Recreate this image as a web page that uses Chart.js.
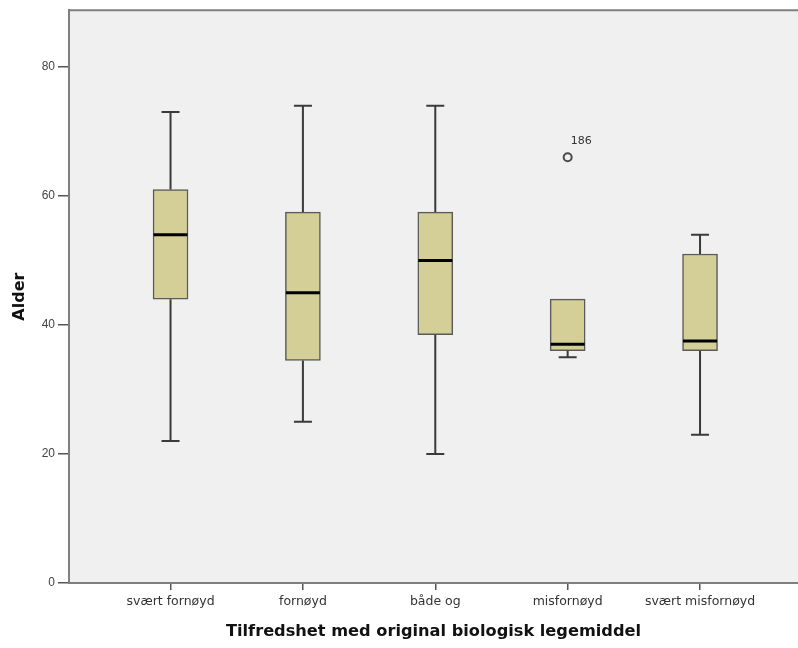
<!DOCTYPE html>
<html>
<head>
<meta charset="utf-8">
<script src="https://cdn.jsdelivr.net/npm/chart.js@4.4.1/dist/chart.umd.min.js"></script>
<style>
  html,body{margin:0;padding:0;background:#fff;}
  #wrap{width:798px;height:648px;}
</style>
</head>
<body>
<div id="wrap"><canvas id="box" width="798" height="648"></canvas></div>
<script>
/* ── data ── */
const categories  = ['svært fornøyd','fornøyd','både og','misfornøyd','svært misfornøyd'];
const whiskerLow  = [22, 25, 20, 35, 23];
const q1          = [44, 34.5, 38.5, 36, 36];
const median      = [54, 45, 50, 37, 37.5];
const q3          = [61, 57.5, 57.5, 44, 51];
const whiskerHigh = [73, 74, 74, 44, 54];
const outlierCat   = [4];
const outlierValue = [66];
const outlierLabel = ['186'];
const yTicks = [0, 20, 40, 60, 80];

const catPos = categories.map((c,i)=>i+1);

/* ── plot background + top frame line ── */
const frame = {
  id:'frame',
  beforeDraw(chart){
    const {ctx, chartArea:a} = chart;
    ctx.save();
    ctx.fillStyle = '#f0f0f0';
    ctx.fillRect(a.left, a.top, a.right-a.left, a.bottom-a.top);
    ctx.strokeStyle = '#7f7f7f'; ctx.lineWidth = 2;
    ctx.beginPath(); ctx.moveTo(a.left, a.top); ctx.lineTo(a.right, a.top); ctx.stroke();
    ctx.restore();
  }
};

/* ── whiskers, caps, medians and outlier ids ── */
const whiskers = {
  id:'whiskers',
  afterDatasetsDraw(chart){
    const {ctx, scales:{x, y}} = chart;
    ctx.save();
    catPos.forEach((c,i)=>{
      const px = x.getPixelForValue(c);
      ctx.strokeStyle = '#3a3a3a'; ctx.lineWidth = 2;
      ctx.beginPath();
      if(whiskerHigh[i] > q3[i]){
        ctx.moveTo(px, y.getPixelForValue(q3[i])); ctx.lineTo(px, y.getPixelForValue(whiskerHigh[i]));
        ctx.moveTo(px-9, y.getPixelForValue(whiskerHigh[i])); ctx.lineTo(px+9, y.getPixelForValue(whiskerHigh[i]));
      }
      if(whiskerLow[i] < q1[i]){
        ctx.moveTo(px, y.getPixelForValue(q1[i])); ctx.lineTo(px, y.getPixelForValue(whiskerLow[i]));
        ctx.moveTo(px-9, y.getPixelForValue(whiskerLow[i])); ctx.lineTo(px+9, y.getPixelForValue(whiskerLow[i]));
      }
      ctx.stroke();
      ctx.strokeStyle = '#000'; ctx.lineWidth = 3;
      ctx.beginPath();
      ctx.moveTo(px-17, y.getPixelForValue(median[i])); ctx.lineTo(px+17, y.getPixelForValue(median[i]));
      ctx.stroke();
    });
    ctx.fillStyle = '#333';
    ctx.font = '11px "DejaVu Sans"';
    ctx.textBaseline = 'middle'; ctx.textAlign = 'left';
    outlierCat.forEach((c,i)=>{
      ctx.fillText(outlierLabel[i], x.getPixelForValue(c)+3, y.getPixelForValue(outlierValue[i])-16);
    });
    ctx.restore();
  }
};

new Chart(document.getElementById('box'),{
  type:'bar',
  data:{
    datasets:[
      {
        type:'bar',
        data: catPos.map((c,i)=>({x:c, y:[q1[i], q3[i]]})),
        backgroundColor:'#d4cf96',
        borderColor:'#5a5a5a',
        borderWidth:1.5,
        borderSkipped:false,
        barThickness:35
      },
      {
        type:'scatter',
        data: outlierCat.map((c,i)=>({x:c, y:outlierValue[i]})),
        pointStyle:'circle',
        pointRadius:4,
        borderColor:'#4a4a4a',
        borderWidth:2,
        backgroundColor:'rgba(0,0,0,0)'
      }
    ]
  },
  options:{
    responsive:false,
    animation:false,
    layout:{autoPadding:false, padding:{top:10, right:0, left:0, bottom:0}},
    plugins:{legend:{display:false}, tooltip:{enabled:false}},
    scales:{
      x:{
        type:'linear',
        offset:false,
        min:0.233, max:5.74,
        afterBuildTicks:s=>{ s.ticks = catPos.map(v=>({value:v})); },
        afterFit:s=>{ s.height = 65; s.paddingRight = 0; },
        grid:{offset:false, drawOnChartArea:false, drawTicks:true, tickLength:7, color:'#555', lineWidth:1.5},
        border:{display:true, color:'#7f7f7f', width:2},
        ticks:{
          padding:4, color:'#333',
          font:{family:'"DejaVu Sans"', size:12.5},
          callback:v=>categories[v-1] || ''
        },
        title:{
          display:true, text:'Tilfredshet med original biologisk legemiddel',
          color:'#111', font:{family:'"DejaVu Sans"', size:16.2, weight:'bold'},
          padding:{top:0, bottom:6}
        }
      },
      y:{
        min:0, max:88.8,
        afterBuildTicks:s=>{ s.ticks = yTicks.map(v=>({value:v})); },
        afterFit:s=>{ s.width = 69; },
        grid:{drawOnChartArea:false, drawTicks:true, tickLength:11, color:'#555', lineWidth:1.5},
        border:{display:true, color:'#7f7f7f', width:2},
        ticks:{padding:3, color:'#444', font:{family:'"Liberation Sans"', size:12}},
        title:{
          display:true, text:'Alder',
          color:'#111', font:{family:'"DejaVu Sans"', size:16, weight:'bold'},
          padding:{top:10, bottom:0}
        }
      }
    }
  },
  plugins:[frame, whiskers]
});
</script>
</body>
</html>
